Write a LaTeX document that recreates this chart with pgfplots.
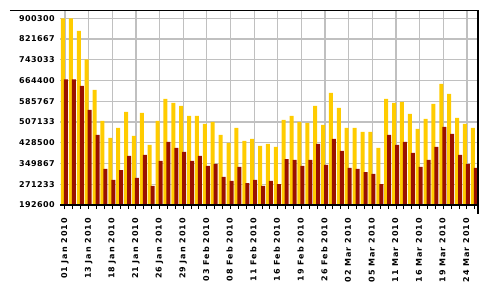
\documentclass[border=0pt]{standalone}
\usepackage{fontspec}
\newfontfamily\lblfont{DejaVu Sans Bold}[LetterSpace=12]
\newfontfamily\ylblfont{DejaVu Sans Bold}[LetterSpace=6]
\usepackage{pgfplots}
\usepackage{pgfplotstable}
\pgfplotsset{compat=1.18}
\definecolor{barY}{HTML}{FFCC00}
\definecolor{barR}{HTML}{991100}
\definecolor{gridc}{HTML}{C0C0C0}
\pgfplotstableread{
i y r
0 900300 669000
1 900300 669000
2 852400 643850
3 745000 552840
4 628680 458040
5 511130 329100
6 446660 287400
7 484600 325300
8 545260 378400
9 454250 295000
10 541500 382200
11 420100 264650
12 511130 359450
13 594550 431500
14 579400 408750
15 568000 393600
16 530100 359450
17 530100 378400
18 499750 340500
19 507350 348100
20 458040 298800
21 427700 283600
22 484600 336700
23 435300 276000
24 442900 287400
25 416300 264650
26 423900 283600
27 412550 272200
28 514900 367000
29 530100 363250
30 507350 340500
31 503550 363250
32 568000 423900
33 496000 344300
34 617300 442900
35 560400 397400
36 484600 332900
37 484600 329100
38 469400 317700
39 469400 310200
40 408750 272200
41 594550 458040
42 579400 420100
43 583200 431500
44 537700 389800
45 480800 336700
46 518700 363250
47 575600 412550
48 651450 488400
49 613500 461850
50 522500 382200
51 499750 348100
52 484600 332900
}\datatable
\begin{document}
\begin{tikzpicture}
\useasboundingbox (-60pt,-95pt) rectangle (435pt,205pt);
\foreach \k in {1,...,9} {
  \draw[draw=gridc, line width=1.2pt] (0pt,\k*20.741pt) -- (418pt,\k*20.741pt);
}
\foreach \j in {0,...,17} {
  \draw[draw=gridc, line width=1.2pt] (4.989pt+\j*23.646pt,0pt) -- (4.989pt+\j*23.646pt,194.5pt);
}
\begin{axis}[
  at={(0,0)}, anchor=south west,
  scale only axis, width=418pt, height=194.5pt,
  xmin=-0.633, xmax=52.4, ymin=192600, ymax=930000,
  axis line style={draw=none},
  scaled y ticks=false,
  xtick={0,3,...,51},
  xticklabels={01 Jan 2010,13 Jan 2010,18 Jan 2010,21 Jan 2010,26 Jan 2010,29 Jan 2010,03 Feb 2010,08 Feb 2010,11 Feb 2010,16 Feb 2010,19 Feb 2010,26 Feb 2010,02 Mar 2010,05 Mar 2010,11 Mar 2010,16 Mar 2010,19 Mar 2010,24 Mar 2010},
  minor xtick={0,...,52},
  ytick={192600,271233,349867,428500,507133,585767,664400,743033,821667,900300},
  yticklabels={192600,271233,349867,428500,507133,585767,664400,743033,821667,900300},
  tick align=outside,
  tick pos=left,
  major tick length=4pt, minor tick length=4pt,
  xtick style={draw=black, line width=1pt},
  ytick style={draw=none},
  xticklabel style={rotate=90, anchor=mid east, inner sep=0pt, font=\lblfont\fontsize{8}{9}\selectfont},
  yticklabel style={anchor=east, inner sep=0pt, font=\ylblfont\fontsize{8}{9}\selectfont},
  xticklabel shift=9pt,
  yticklabel shift=1pt,
]
\addplot[ybar, bar width=4pt, bar shift=-2pt, fill=barY, draw=none] table[x=i,y=y]{\datatable};
\addplot[ybar, bar width=4pt, bar shift=1pt, fill=barR, draw=none] table[x=i,y=r]{\datatable};
\end{axis}
\draw[black, line width=1.3pt] (-50pt,194.5pt) -- (418pt,194.5pt) -- (418pt,-9pt);
\draw[black, line width=1.3pt] (0pt,0pt) -- (418pt,0pt);
\end{tikzpicture}
\end{document}
